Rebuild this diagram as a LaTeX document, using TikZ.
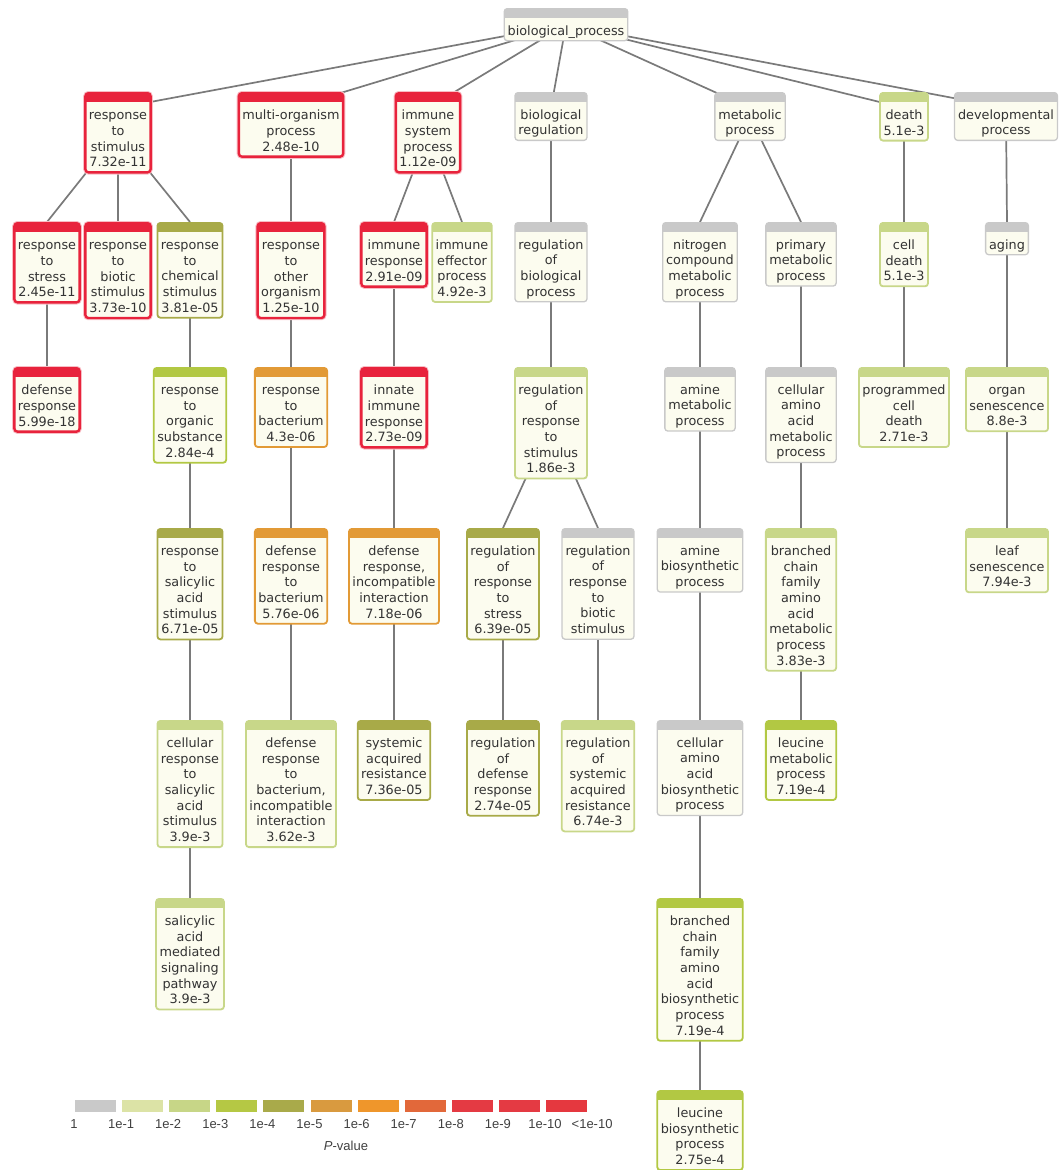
\documentclass[tikz,border=0pt]{standalone}
\usepackage{fontspec}
\usetikzlibrary{backgrounds}
\newfontfamily\gofont{DejaVu Sans}
\newfontfamily\legfont{Liberation Sans}
\definecolor{pGray}{HTML}{C9C9C9}
\definecolor{pLight}{HTML}{C8D789}
\definecolor{pGreen}{HTML}{B2C843}
\definecolor{pOlive}{HTML}{A8AA48}
\definecolor{pTan}{HTML}{E29A36}
\definecolor{pRed}{HTML}{E8233C}
\definecolor{bodyC}{HTML}{FCFCEF}
\definecolor{txtC}{HTML}{333333}
\definecolor{edgeC}{HTML}{7A7A7A}
\definecolor{sc0}{HTML}{C9C9C9}
\definecolor{sc1}{HTML}{DCE3A6}
\definecolor{sc2}{HTML}{C7D687}
\definecolor{sc3}{HTML}{B5C844}
\definecolor{sc4}{HTML}{A9AA4A}
\definecolor{sc5}{HTML}{D99A3F}
\definecolor{sc6}{HTML}{EF962B}
\definecolor{sc7}{HTML}{E2683A}
\definecolor{sc8}{HTML}{E43A43}
\definecolor{sc9}{HTML}{E43A43}
\definecolor{sc10}{HTML}{E5383F}
\newcommand{\goterm}[1]{\begin{tabular}{@{}c@{}}\rule{0pt}{25.7pt}#1\end{tabular}}

\begin{document}
\begin{tikzpicture}[x=1pt,y=-1pt]
\tikzstyle{term}=[draw=#1, fill=bodyC, line width=1.8pt, rounded corners=3pt, anchor=north, inner xsep=3.5pt, inner ysep=0.8pt, text=txtC, font=\gofont\fontsize{12.8}{15.7}\selectfont, path picture={\fill[#1, sharp corners] ([yshift=2pt]path picture bounding box.north west) rectangle ([yshift=-9pt]path picture bounding box.north east);}]
\tikzstyle{sig}=[term=pRed, line width=2.4pt, preaction={draw=pRed!30, line width=4.4pt}]
\tikzstyle{nosig}=[term=pGray, line width=1.3pt]
\tikzstyle{edge}=[draw=edgeC, line width=1.7pt]
\tikzstyle{leglab}=[font=\legfont\fontsize{13}{15}\selectfont, text=black!75]
\useasboundingbox (0,0) rectangle (1058,1170);

\node[nosig] (bp) at (566,8) {\goterm{biological\_process}};
% first level
\node[sig] (rts) at (118,92) {\goterm{response\\to\\stimulus\\7.32e-11}};
\node[sig] (mop) at (291,92) {\goterm{multi-organism\\process\\2.48e-10}};
\node[sig] (isp) at (428,92) {\goterm{immune\\system\\process\\1.12e-09}};
\node[nosig] (breg) at (551,92) {\goterm{biological\\regulation}};
\node[nosig] (metab) at (750,92) {\goterm{metabolic\\process}};
\node[term=pLight] (death) at (904,92) {\goterm{death\\5.1e-3}};
\node[nosig] (devel) at (1006,92) {\goterm{developmental\\process}};
% second level
\node[sig] (rstress) at (47,222) {\goterm{response\\to\\stress\\2.45e-11}};
\node[sig] (rbiotic) at (118,222) {\goterm{response\\to\\biotic\\stimulus\\3.73e-10}};
\node[term=pOlive] (rchem) at (190,222) {\goterm{response\\to\\chemical\\stimulus\\3.81e-05}};
\node[sig] (rother) at (291,222) {\goterm{response\\to\\other\\organism\\1.25e-10}};
\node[sig] (iresp) at (394,222) {\goterm{immune\\response\\2.91e-09}};
\node[term=pLight] (ieff) at (462,222) {\goterm{immune\\effector\\process\\4.92e-3}};
\node[nosig] (rbp) at (551,222) {\goterm{regulation\\of\\biological\\process}};
\node[nosig] (ncmp) at (700,222) {\goterm{nitrogen\\compound\\metabolic\\process}};
\node[nosig] (pmp) at (801,222) {\goterm{primary\\metabolic\\process}};
\node[term=pLight] (cdeath) at (904,222) {\goterm{cell\\death\\5.1e-3}};
\node[nosig] (aging) at (1007,222) {\goterm{aging}};
% third level
\node[sig] (dresp) at (47,367) {\goterm{defense\\response\\5.99e-18}};
\node[term=pGreen] (rorg) at (190,367) {\goterm{response\\to\\organic\\substance\\2.84e-4}};
\node[term=pTan] (rbact) at (291,367) {\goterm{response\\to\\bacterium\\4.3e-06}};
\node[sig] (innate) at (394,367) {\goterm{innate\\immune\\response\\2.73e-09}};
\node[term=pLight] (rrs) at (551,367) {\goterm{regulation\\of\\response\\to\\stimulus\\1.86e-3}};
\node[nosig] (amp) at (700,367) {\goterm{amine\\metabolic\\process}};
\node[nosig] (caamp) at (801,367) {\goterm{cellular\\amino\\acid\\metabolic\\process}};
\node[term=pLight] (pcd) at (904,367) {\goterm{programmed\\cell\\death\\2.71e-3}};
\node[term=pLight] (organ) at (1007,367) {\goterm{organ\\senescence\\8.8e-3}};
% fourth level
\node[term=pOlive] (rsa) at (190,528) {\goterm{response\\to\\salicylic\\acid\\stimulus\\6.71e-05}};
\node[term=pTan] (drb) at (291,528) {\goterm{defense\\response\\to\\bacterium\\5.76e-06}};
\node[term=pTan] (drii) at (394,528) {\goterm{defense\\response,\\incompatible\\interaction\\7.18e-06}};
\node[term=pOlive] (rrstress) at (503,528) {\goterm{regulation\\of\\response\\to\\stress\\6.39e-05}};
\node[nosig] (rrbiotic) at (598,528) {\goterm{regulation\\of\\response\\to\\biotic\\stimulus}};
\node[nosig] (abp) at (700,528) {\goterm{amine\\biosynthetic\\process}};
\node[term=pLight] (bcmp) at (801,528) {\goterm{branched\\chain\\family\\amino\\acid\\metabolic\\process\\3.83e-3}};
\node[term=pLight] (leaf) at (1007,528) {\goterm{leaf\\senescence\\7.94e-3}};
% fifth level
\node[term=pLight] (crsa) at (190,720) {\goterm{cellular\\response\\to\\salicylic\\acid\\stimulus\\3.9e-3}};
\node[term=pLight] (drbii) at (291,720) {\goterm{defense\\response\\to\\bacterium,\\incompatible\\interaction\\3.62e-3}};
\node[term=pOlive] (sar) at (394,720) {\goterm{systemic\\acquired\\resistance\\7.36e-05}};
\node[term=pOlive] (rdr) at (503,720) {\goterm{regulation\\of\\defense\\response\\2.74e-05}};
\node[term=pLight] (rsar) at (598,720) {\goterm{regulation\\of\\systemic\\acquired\\resistance\\6.74e-3}};
\node[nosig] (caabp) at (700,720) {\goterm{cellular\\amino\\acid\\biosynthetic\\process}};
\node[term=pGreen] (lmp) at (801,720) {\goterm{leucine\\metabolic\\process\\7.19e-4}};
% sixth and seventh level
\node[term=pLight] (samsp) at (190,898) {\goterm{salicylic\\acid\\mediated\\signaling\\pathway\\3.9e-3}};
\node[term=pGreen] (bcbp) at (700,898) {\goterm{branched\\chain\\family\\amino\\acid\\biosynthetic\\process\\7.19e-4}};
\node[term=pGreen] (lbp) at (700,1090) {\goterm{leucine\\biosynthetic\\process\\2.75e-4}};

\begin{scope}[on background layer]
\foreach \c in {rts,mop,isp,breg,metab,death,devel}
  \draw[edge] (bp.center) -- ([yshift=-16pt]\c.north);
\foreach \p/\c in {rts/rstress,rts/rbiotic,rts/rchem,rstress/dresp,rchem/rorg,rorg/rsa,rsa/crsa,crsa/samsp,
  mop/rother,rother/rbact,rbact/drb,drb/drbii,isp/iresp,isp/ieff,iresp/innate,innate/drii,drii/sar,
  breg/rbp,rbp/rrs,rrs/rrstress,rrs/rrbiotic,rrstress/rdr,rrbiotic/rsar,
  metab/ncmp,metab/pmp,ncmp/amp,amp/abp,abp/caabp,caabp/bcbp,bcbp/lbp,pmp/caamp,caamp/bcmp,bcmp/lmp,
  death/cdeath,cdeath/pcd,devel/aging,aging/organ,organ/leaf}
  \draw[edge] (\p.center) -- (\c.north);
\end{scope}

% colour scale
\foreach \c [count=\i from 0] in {sc0,sc1,sc2,sc3,sc4,sc5,sc6,sc7,sc8,sc9,sc10}
  \fill[\c] ({75+47.1*\i},1100) rectangle ++(41,12);
\foreach \lab [count=\i from 0] in {1,1e-1,1e-2,1e-3,1e-4,1e-5,1e-6,1e-7,1e-8,1e-9,1e-10,<1e-10}
  \node[leglab] (tick\i) at ({74+47.1*\i},1124) {\lab};
\node[leglab] (ptitle) at (346,1146) {\textit{P}-value};
\end{tikzpicture}
\end{document}
